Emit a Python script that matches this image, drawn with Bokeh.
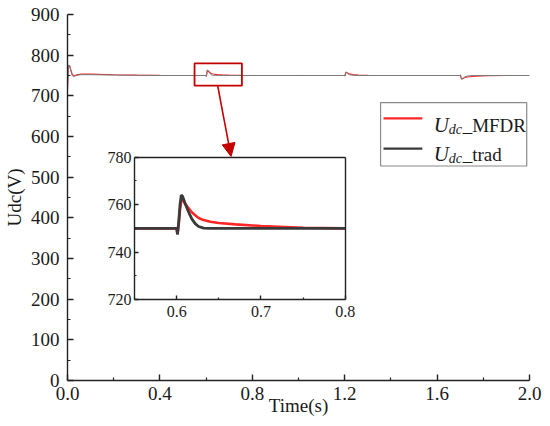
from bokeh.plotting import figure
from bokeh.models import (Range1d, LinearAxis, FixedTicker, PrintfTickFormatter,
                          BoxAnnotation, Arrow, NormalHead, ColumnDataSource)
from bokeh.embed import file_html
from bokeh.resources import INLINE
from bokeh.core.properties import value

# ---------------- data ----------------
TIME = [0.000, 0.003, 0.006, 0.010, 0.015, 0.020, 0.026, 0.032, 0.040, 0.060, 0.100, 0.200, 0.300, 0.400, 0.550,
        0.600, 0.601, 0.6025, 0.604, 0.6055, 0.607, 0.610, 0.614, 0.618, 0.622, 0.626, 0.632, 0.640, 0.650, 0.670, 0.700, 0.750, 0.800,
        1.000, 1.200, 1.201, 1.203, 1.205, 1.208, 1.212, 1.220, 1.235, 1.260, 1.300, 1.400,
        1.700, 1.701, 1.703, 1.706, 1.710, 1.716, 1.725, 1.740, 1.770, 1.820, 1.900, 2.000]

UDC_TRAD = [715, 768, 776, 772, 760, 750, 747, 748.5, 750.5, 752, 752, 751, 750.5, 750, 750,
            750, 747.5, 753, 760, 764, 763.5, 760.5, 757, 754, 752, 750.8, 750.1, 750, 750, 750, 750, 750, 750,
            750, 750, 748.5, 755, 759, 758, 755, 752, 750.5, 750, 750, 750,
            750, 751.5, 745, 740.5, 741.5, 745, 748, 749.5, 750, 750, 750, 750]

UDC_MFDR = [715, 765, 775, 773, 763, 754, 750, 750, 751.5, 753.5, 753.5, 752, 751, 750.3, 750,
            750, 747.5, 752, 758, 761.5, 762.3, 760.5, 758.5, 756.8, 755.5, 754.4, 753.5, 752.8, 752.3, 751.7, 751, 750.3, 750,
            750, 750, 748.5, 754, 757.5, 757.5, 756, 754, 752.5, 751.3, 750.6, 750,
            750, 751.5, 746, 742, 742, 744, 745.5, 747, 748.5, 749.5, 750, 750]

X_TICKS = [0.0, 0.4, 0.8, 1.2, 1.6, 2.0]
X_MINOR = [0.2, 0.6, 1.0, 1.4, 1.8]
Y_TICKS = [0, 100, 200, 300, 400, 500, 600, 700, 800, 900]
Y_MINOR = [50, 150, 250, 350, 450, 550, 650, 750, 850]

INSET_X_TICKS = [0.6, 0.7, 0.8]
INSET_X_MINOR = [0.55, 0.65, 0.75]
INSET_Y_TICKS = [720, 740, 760, 780]
INSET_Y_MINOR = [730, 750, 770]

LABEL_MFDR = "_MFDR"
LABEL_TRAD = "_trad"

# ---------------- styles / layout ----------------
FONT = "Liberation Serif"
RED = "#ff2626"
DARK = "#3a3a3a"
MAIN_GRAY = "#7a7a7a"
MARK_RED = "#c40000"
AX = "#222222"

X0, X1 = 0.0, 2.0
Y0, Y1 = 0, 900
IX0, IX1 = 0.55, 0.80          # inset window (data)
IY0, IY1 = 720, 780
# where the inset box sits, in main-axis coordinates
BOX_X0, BOX_X1 = 0.29, 1.2025
BOX_Y0, BOX_Y1 = 198.5, 549.5

sx = (IX1 - IX0) / (BOX_X1 - BOX_X0)
sy = (IY1 - IY0) / (BOX_Y1 - BOX_Y0)
ix_start = IX0 - (BOX_X0 - X0) * sx
ix_end = IX0 + (X1 - BOX_X0) * sx
iy_start = IY0 - (BOX_Y0 - Y0) * sy
iy_end = IY0 + (Y1 - BOX_Y0) * sy

p = figure(frame_width=462, frame_height=366,
           x_range=Range1d(X0, X1), y_range=Range1d(Y0, Y1),
           output_backend="svg", toolbar_location=None,
           min_border_left=0, min_border_right=14, min_border_top=14, min_border_bottom=0)
p.outline_line_color = None
p.grid.visible = False
p.extra_x_ranges = {"ix": Range1d(ix_start, ix_end)}
p.extra_y_ranges = {"iy": Range1d(iy_start, iy_end)}

def style_axis(ax, size, tick_in, minor_in):
    ax.axis_line_color = AX
    ax.axis_line_width = 1.4
    ax.major_tick_line_color = AX
    ax.minor_tick_line_color = AX
    ax.major_tick_line_width = 1.4
    ax.minor_tick_line_width = 1.2
    ax.major_tick_in = tick_in
    ax.major_tick_out = 0
    ax.minor_tick_in = minor_in
    ax.minor_tick_out = 0
    ax.major_label_text_font = FONT
    ax.major_label_text_font_size = size
    ax.major_label_text_color = "#1a1a1a"

# main axes
xa = p.xaxis[0]
ya = p.yaxis[0]
xa.ticker = FixedTicker(ticks=X_TICKS, minor_ticks=X_MINOR)
xa.formatter = PrintfTickFormatter(format="%.1f")
ya.ticker = FixedTicker(ticks=Y_TICKS, minor_ticks=Y_MINOR)
style_axis(xa, "19px", 6, 3)
style_axis(ya, "19px", 6, 3)
xa.major_label_standoff = 6
ya.major_label_standoff = 8
xa.axis_label = "Time(s)"
ya.axis_label = "Udc(V)"
for a in (xa, ya):
    a.axis_label_text_font = FONT
    a.axis_label_text_font_size = "19px"
    a.axis_label_text_font_style = "normal"
    a.axis_label_text_color = "#1a1a1a"
xa.axis_label_standoff = -8
ya.axis_label_standoff = 3

# main curves
src = ColumnDataSource(dict(t=TIME, mfdr=UDC_MFDR, trad=UDC_TRAD))
p.line("t", "mfdr", source=src, line_color=RED, line_width=1.1)
p.line("t", "trad", source=src, line_color=MAIN_GRAY, line_width=1.0)

# inset curves (same data, window only)
idx = [i for i, t in enumerate(TIME) if IX0 <= t <= IX1]
isrc = ColumnDataSource(dict(t=[TIME[i] for i in idx],
                             mfdr=[UDC_MFDR[i] for i in idx],
                             trad=[UDC_TRAD[i] for i in idx]))
p.line("t", "mfdr", source=isrc, x_range_name="ix", y_range_name="iy",
       line_color=RED, line_width=2.6)
p.line("t", "trad", source=isrc, x_range_name="ix", y_range_name="iy",
       line_color=DARK, line_width=2.8)

# inset axes
il = LinearAxis(x_range_name="ix", y_range_name="iy", fixed_location=IX0, bounds=(IY0, IY1),
                ticker=FixedTicker(ticks=INSET_Y_TICKS, minor_ticks=INSET_Y_MINOR))
style_axis(il, "16px", 4, 2)
il.major_label_standoff = 3
p.add_layout(il, "left")
ib = LinearAxis(x_range_name="ix", y_range_name="iy", fixed_location=IY0, bounds=(IX0, IX1),
                ticker=FixedTicker(ticks=INSET_X_TICKS, minor_ticks=INSET_X_MINOR),
                formatter=PrintfTickFormatter(format="%.1f"))
style_axis(ib, "16px", 4, 2)
ib.major_label_standoff = 6
p.add_layout(ib, "below")
it = LinearAxis(x_range_name="ix", y_range_name="iy", fixed_location=IY1, bounds=(IX0, IX1),
                ticker=FixedTicker(ticks=[]))
style_axis(it, "16px", 0, 0)
p.add_layout(it, "above")
ir = LinearAxis(x_range_name="ix", y_range_name="iy", fixed_location=IX1, bounds=(IY0, IY1),
                ticker=FixedTicker(ticks=[]))
style_axis(ir, "16px", 0, 0)
p.add_layout(ir, "right")

# zoom marker box and arrow
p.add_layout(BoxAnnotation(left=0.55, right=0.755, bottom=725, top=780,
                           fill_alpha=0, line_color=MARK_RED, line_alpha=1, line_width=1.8))
p.add_layout(Arrow(end=NormalHead(size=13, fill_color=MARK_RED, line_color=MARK_RED),
                   x_start=0.65, y_start=725, x_end=0.708, y_end=551,
                   line_color=MARK_RED, line_width=1.6))

# legend (hand built for the italic subscript)
LG_X0, LG_X1, LG_Y0, LG_Y1 = 1.3553, 1.988, 527.5, 683.2
p.add_layout(BoxAnnotation(left=LG_X0, right=LG_X1, bottom=LG_Y0, top=LG_Y1,
                           fill_alpha=0, line_color="#8a8a8a", line_alpha=1, line_width=1.2))
row_line_y = [644.6, 570.2]
row_text_y = [627.5, 556.3]
sx0, sx1 = 1.368, 1.536
p.segment(x0=[sx0, sx0], y0=row_line_y, x1=[sx1, sx1], y1=row_line_y,
          line_color=[RED, DARK], line_width=2.4)
tx = [1.585, 1.585]
p.text(x=tx, y=row_text_y, text=["U", "U"], text_font=value(FONT), text_font_style="italic",
       text_font_size="21px", text_baseline="alphabetic", text_color="#1a1a1a")
p.text(x=tx, y=row_text_y, text=["dc", "dc"], text_font=value(FONT), text_font_style="italic",
       text_font_size="14px", text_baseline="alphabetic", text_color="#1a1a1a",
       x_offset=15, y_offset=4)
p.text(x=tx, y=row_text_y, text=[LABEL_MFDR, LABEL_TRAD], text_font=value(FONT),
       text_font_size="19px", text_baseline="alphabetic", text_color="#1a1a1a",
       x_offset=29)

open("out.html", "w").write(file_html(p, INLINE))
